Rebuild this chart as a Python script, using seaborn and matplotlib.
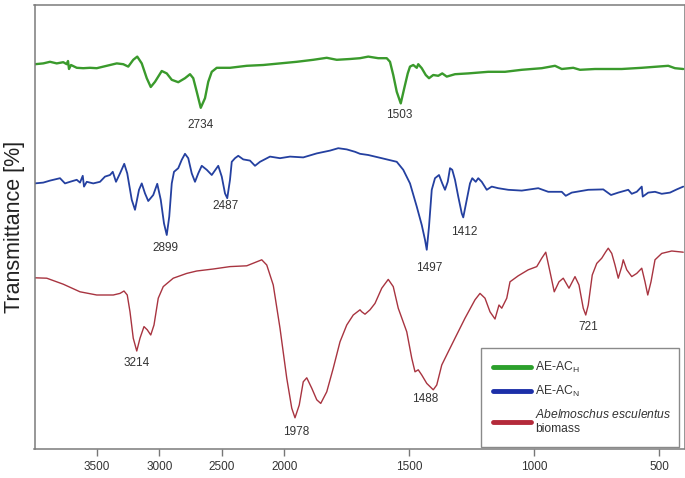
import numpy as np
import pandas as pd
import seaborn as sns
import matplotlib.pyplot as plt
from matplotlib.lines import Line2D

# ---------------------------------------------------------------
# DATA (offset traces, arbitrary units)
# ---------------------------------------------------------------
green_wn = [3996, 3930, 3876, 3822, 3770, 3742, 3732, 3724, 3708, 3662, 3610, 3556, 3502,
            3422, 3342, 3290, 3250, 3210, 3178, 3142, 3102, 3070, 3036, 2982, 2942, 2902,
            2850, 2796, 2756, 2730, 2702, 2670, 2636, 2610, 2582, 2542, 2436, 2302, 2170,
            2036, 1951, 1885, 1831, 1791, 1738, 1698, 1665, 1625, 1591, 1578, 1565, 1551,
            1535, 1521, 1507, 1498, 1485, 1471, 1465, 1451, 1435, 1422, 1405, 1385, 1369,
            1351, 1318, 1265, 1185, 1118, 1051, 971, 918, 891, 845, 818, 758, 651, 571,
            465, 438, 405]
green_t = [96.2, 96.4, 96.8, 96.4, 96.7, 96.2, 97.0, 95.0, 96.0, 95.3, 95.2, 95.3, 95.2,
           95.8, 96.4, 96.2, 95.6, 97.3, 98.1, 96.4, 92.7, 90.5, 91.8, 94.5, 93.9, 92.3,
           91.7, 92.7, 93.7, 92.7, 89.3, 85.3, 87.7, 91.8, 94.3, 95.3, 95.3, 95.8, 96.0,
           96.4, 96.8, 97.3, 97.8, 97.3, 97.5, 97.7, 98.1, 97.7, 97.7, 96.8, 93.5, 89.3,
           86.4, 90.2, 93.9, 95.6, 96.0, 95.3, 96.2, 95.2, 93.5, 92.7, 93.5, 93.3, 93.9,
           93.1, 93.7, 93.9, 94.3, 94.3, 94.8, 95.2, 95.8, 95.0, 95.3, 94.8, 95.0, 95.0,
           95.3, 95.8, 95.2, 95.0]

blue_wn = [3998, 3930, 3876, 3796, 3756, 3716, 3662, 3636, 3614, 3604, 3582, 3530, 3476,
           3436, 3396, 3374, 3348, 3316, 3282, 3258, 3222, 3196, 3164, 3142, 3116, 3090,
           3050, 3018, 2990, 2964, 2942, 2922, 2902, 2884, 2850, 2822, 2796, 2770, 2742,
           2716, 2690, 2662, 2622, 2582, 2530, 2502, 2476, 2458, 2436, 2422, 2396, 2370,
           2330, 2276, 2236, 2196, 2116, 2036, 1978, 1925, 1871, 1818, 1785, 1751, 1718,
           1698, 1665, 1611, 1551, 1525, 1498, 1471, 1451, 1438, 1431, 1422, 1411, 1398,
           1382, 1369, 1358, 1347, 1338, 1329, 1318, 1305, 1291, 1285, 1271, 1258, 1249,
           1235, 1225, 1211, 1191, 1171, 1145, 1105, 1051, 985, 945, 891, 875, 851, 785,
           725, 694, 665, 625, 611, 591, 571, 567, 545, 518, 491, 458, 431, 405]
blue_t = [66.4, 66.6, 67.1, 67.7, 66.4, 66.8, 67.3, 66.6, 68.3, 65.6, 66.8, 66.4, 66.8,
          68.1, 68.5, 69.3, 66.8, 68.9, 71.3, 68.9, 62.3, 59.8, 64.8, 66.4, 63.9, 62.0,
          63.5, 66.3, 62.3, 56.4, 53.5, 58.1, 66.4, 69.3, 70.2, 72.3, 73.8, 72.7, 68.9,
          66.8, 68.9, 70.8, 69.8, 68.5, 70.8, 68.1, 63.9, 62.7, 67.3, 71.8, 72.7, 73.3,
          72.4, 72.1, 70.8, 71.8, 73.1, 72.7, 73.1, 72.9, 73.9, 74.6, 75.2, 74.9, 74.3,
          73.8, 73.5, 72.7, 71.8, 69.8, 66.4, 60.6, 56.0, 52.3, 49.8, 55.6, 64.8, 67.7,
          68.5, 66.4, 64.8, 66.8, 70.2, 69.8, 67.3, 63.1, 58.9, 57.9, 62.3, 66.4, 67.7,
          66.8, 67.7, 66.8, 64.8, 65.6, 65.2, 64.8, 64.6, 65.2, 64.3, 64.3, 63.3, 64.1, 64.8,
          64.9, 63.5, 64.1, 64.8, 63.8, 64.3, 65.6, 63.1, 64.1, 64.3, 63.8, 64.1, 64.9, 65.6]

red_wn = [3998, 3902, 3770, 3636, 3502, 3370, 3316, 3284, 3258, 3236, 3210, 3182, 3156,
          3124, 3098, 3070, 3044, 3010, 2970, 2890, 2782, 2702, 2570, 2436, 2302, 2222,
          2182, 2142, 2090, 2036, 1991, 1971, 1958, 1941, 1925, 1911, 1891, 1871, 1855,
          1831, 1805, 1778, 1751, 1725, 1698, 1691, 1678, 1658, 1638, 1611, 1585, 1565,
          1545, 1511, 1491, 1478, 1465, 1451, 1431, 1405, 1391, 1371, 1345, 1318, 1278,
          1238, 1218, 1198, 1178, 1158, 1142, 1131, 1111, 1098, 1065, 1025, 991, 971, 955,
          938, 921, 902, 885, 862, 838, 822, 805, 795, 785, 769, 751, 731, 715, 705, 691,
          678, 665, 651, 645, 631, 611, 591, 571, 558, 547, 534, 518, 491, 451, 405]
red_t = [42.8, 42.7, 41.2, 39.3, 38.5, 38.5, 38.9, 39.5, 38.5, 34.3, 27.7, 24.5, 27.7,
         30.6, 29.8, 28.5, 31.0, 37.7, 40.6, 42.7, 43.9, 44.5, 45.0, 45.6, 45.8, 46.8,
         47.3, 46.0, 41.0, 30.2, 17.7, 10.2, 7.8, 11.0, 16.8, 17.8, 15.2, 12.3, 11.4,
         14.3, 20.2, 26.8, 31.0, 33.5, 34.8, 34.3, 33.7, 34.8, 36.4, 40.2, 42.4, 40.6,
         35.2, 29.3, 22.7, 19.3, 19.8, 18.5, 16.4, 14.8, 16.0, 21.0, 24.3, 27.7, 32.7,
         37.3, 38.9, 37.7, 34.3, 32.5, 36.0, 35.2, 37.7, 41.8, 43.3, 44.8, 45.6, 47.7, 49.2,
         44.3, 39.3, 41.8, 42.7, 40.2, 43.1, 41.0, 35.2, 33.5, 36.0, 43.5, 46.4, 47.7, 49.3,
         50.2, 48.9, 46.0, 42.7, 45.6, 47.3, 44.8, 43.1, 43.9, 45.2, 41.8, 38.5, 41.8, 47.3,
         48.9, 49.5, 49.2]

peak_text = ['2734', '1503', '2899', '2487', '1497', '1412', '3214', '1978', '1488', '721']
peak_wn = [2668, 1543, 2950, 2468, 1420, 1282, 3185, 1954, 1438, 785]
peak_t = [81.0, 83.4, 50.3, 60.7, 45.3, 54.3, 21.5, 4.3, 12.6, 30.6]

tick_wn = [3500, 3000, 2500, 2000, 1500, 1000, 500]

# ---------------------------------------------------------------
# PLOT
# ---------------------------------------------------------------
sns.set_style('white')
plt.rcParams['font.family'] = ['Liberation Sans', 'DejaVu Sans']
plt.rcParams['mathtext.fontset'] = 'custom'
plt.rcParams['mathtext.rm'] = 'Liberation Sans'
plt.rcParams['mathtext.it'] = 'Liberation Sans:italic'

green_c = '#3a9a2c'
blue_c = '#2440a0'
red_c = '#a83440'

df_g = pd.DataFrame({'wn': green_wn, 't': green_t})
df_b = pd.DataFrame({'wn': blue_wn, 't': blue_t})
df_r = pd.DataFrame({'wn': red_wn, 't': red_t})

fig = plt.figure(figsize=(6.85, 4.78), dpi=100)
ax = fig.add_axes([34.5 / 685, 1 - 449 / 478, 650 / 685, 444 / 478])

sns.lineplot(data=df_g, x='wn', y='t', color=green_c, lw=1.7, estimator=None, ax=ax)
sns.lineplot(data=df_b, x='wn', y='t', color=blue_c, lw=1.3, estimator=None, ax=ax)
sns.lineplot(data=df_r, x='wn', y='t', color=red_c, lw=1.0, estimator=None, ax=ax)


# wavenumber axis is compressed by 2 above 2000 cm-1
def fwd(x):
    x = np.asarray(x, dtype=float)
    return np.where(x > 2000, 2000 + (x - 2000) / 2, x)


def inv(y):
    y = np.asarray(y, dtype=float)
    return np.where(y > 2000, 2000 + (y - 2000) * 2, y)


ax.set_xscale('function', functions=(fwd, inv))
ax.set_xlim(4000, 400)
ax.set_ylim(0, 111)
ax.set_xticks(tick_wn)
ax.set_xticklabels([str(t) for t in tick_wn])
ax.set_yticks([])
ax.set_xlabel('')
ax.set_ylabel('Transmittance [%]', fontsize=15.5, color='#222222', labelpad=7)

ax.tick_params(axis='x', direction='out', length=5, width=1, color='#777777',
               labelsize=8.5, labelcolor='#333333', pad=4, bottom=True)
for s in ax.spines.values():
    s.set_color('#7a7a7a')
    s.set_linewidth(1.1)

for txt, wn, t in zip(peak_text, peak_wn, peak_t):
    ax.text(wn, t, txt, ha='center', va='center', fontsize=8.5, color='#333333')

handles = [Line2D([], [], color='#2ca02c', lw=3.5),
           Line2D([], [], color='#1c2fa8', lw=3.5),
           Line2D([], [], color='#b42a3a', lw=3.5)]
labels = [r'AE-AC$_\mathregular{H}$', r'AE-AC$_\mathregular{N}$',
          r'$\mathit{Abelmoschus\ esculentus}$' + '\nbiomass']
leg = ax.legend(handles, labels, loc='lower left', bbox_to_anchor=(0.687, 0.004, 0.305, 0.24),
                mode='expand', fancybox=False, framealpha=1, edgecolor='#8a8a8a',
                fontsize=8.7, handlelength=3.1, handletextpad=0.4, labelspacing=0.75,
                borderpad=1.0, borderaxespad=0)
leg.get_frame().set_linewidth(1.0)
for t in leg.get_texts():
    t.set_color('#333333')

plt.savefig('out.png', dpi=100)
